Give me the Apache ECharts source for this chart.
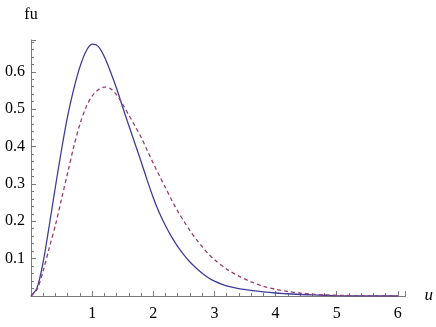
<!DOCTYPE html>
<html>
<head>
    <meta charset="UTF-8">
    <title>fu(u)</title>
    <script src="https://cdn.jsdelivr.net/npm/echarts@6/dist/echarts.min.js"></script>
    <style>
    html, body { margin: 0; padding: 0; background: #fff; }
    #chart { width: 436px; height: 327px; }
    </style>
</head>
<body>
    <div id="chart"></div>
    <script type="text/javascript">
    // values
    var uValues = [0, 0.1, 0.2, 0.3, 0.4, 0.5, 0.6, 0.7, 0.8, 0.9,
        1.0, 1.1, 1.2, 1.3, 1.4, 1.5, 1.6, 1.7, 1.8, 1.9,
        2.0, 2.1, 2.2, 2.3, 2.4, 2.5, 2.6, 2.7, 2.8, 2.9,
        3.0, 3.2, 3.4, 3.6, 3.8, 4.0, 4.2, 4.4, 4.6, 4.8, 5.0, 5.5, 6.0];
    var fuSolid = [0, 0.022, 0.092, 0.19, 0.293, 0.392, 0.482, 0.554, 0.613, 0.655,
        0.674, 0.668, 0.640, 0.600, 0.555, 0.505, 0.456, 0.408, 0.360, 0.310,
        0.263, 0.222, 0.188, 0.158, 0.132, 0.110, 0.091, 0.075, 0.061, 0.049,
        0.040, 0.027, 0.020, 0.015, 0.011, 0.008, 0.006, 0.004, 0.003, 0.002, 0.001, 0.0003, 0];
    var fuDashed = [0, 0.018, 0.068, 0.13, 0.19, 0.26, 0.33, 0.40, 0.46, 0.505,
        0.535, 0.552, 0.559, 0.555, 0.538, 0.513, 0.484, 0.455, 0.425, 0.39,
        0.355, 0.322, 0.29, 0.257, 0.227, 0.2, 0.175, 0.152, 0.132, 0.113,
        0.097, 0.072, 0.053, 0.038, 0.026, 0.018, 0.012, 0.008, 0.005, 0.003, 0.002, 0.0005, 0];
    var xTicks = [1, 2, 3, 4, 5, 6];
    var yTicks = [0.1, 0.2, 0.3, 0.4, 0.5, 0.6];

    var pairs = function(ys) {
        return uValues.map(function(u, i) { return [u, ys[i]]; });
    };

    var axisGray = '#7a7a7a';
    var labelFont = {
        color: '#000',
        fontFamily: 'Liberation Serif',
        fontSize: 16
    };

    var chart = echarts.init(document.getElementById('chart'));
    var option = {
        animation: false,
        grid: { left: 31, right: 28, top: 40, bottom: 31 },
        xAxis: {
            type: 'value',
            min: 0,
            max: 6.125,
            interval: 1,
            name: 'u',
            nameLocation: 'end',
            nameGap: 19,
            nameTextStyle: {
                color: '#000',
                fontFamily: 'Liberation Serif',
                fontStyle: 'italic',
                fontSize: 17,
                padding: [0, 0, 6, 0]
            },
            splitLine: { show: false },
            axisLine: { onZero: false, lineStyle: { color: axisGray, width: 1 } },
            axisTick: { inside: true, length: 5, lineStyle: { color: axisGray } },
            minorTick: { show: true, splitNumber: 5, length: 3, lineStyle: { color: axisGray } },
            axisLabel: Object.assign({
                margin: 10,
                formatter: function(v) {
                    return xTicks.indexOf(v) >= 0 ? String(v) : '';
                }
            }, labelFont)
        },
        yAxis: {
            type: 'value',
            min: 0,
            max: 0.685,
            interval: 0.1,
            name: 'fu',
            nameLocation: 'end',
            nameGap: 17,
            nameTextStyle: {
                color: '#000',
                fontFamily: 'Liberation Serif',
                fontSize: 16,
                align: 'center'
            },
            splitLine: { show: false },
            axisLine: { show: true, onZero: false, lineStyle: { color: axisGray, width: 1 } },
            axisTick: { show: true, inside: true, length: 5, lineStyle: { color: axisGray } },
            minorTick: { show: true, splitNumber: 5, length: 3, lineStyle: { color: axisGray } },
            axisLabel: Object.assign({
                margin: 6,
                formatter: function(v) {
                    for (var i = 0; i < yTicks.length; i++) {
                        if (Math.abs(v - yTicks[i]) < 1e-6) return yTicks[i].toFixed(1);
                    }
                    return '';
                }
            }, labelFont)
        },
        series: [{
            type: 'line',
            data: pairs(fuSolid),
            smooth: 0.3,
            showSymbol: false,
            lineStyle: { color: '#3d3d99', width: 1.3 }
        }, {
            type: 'line',
            data: pairs(fuDashed),
            smooth: 0.3,
            showSymbol: false,
            lineStyle: { color: '#993d71', width: 1.3, type: [4, 3] }
        }]
    };
    chart.setOption(option);
    </script>
</body>
</html>
